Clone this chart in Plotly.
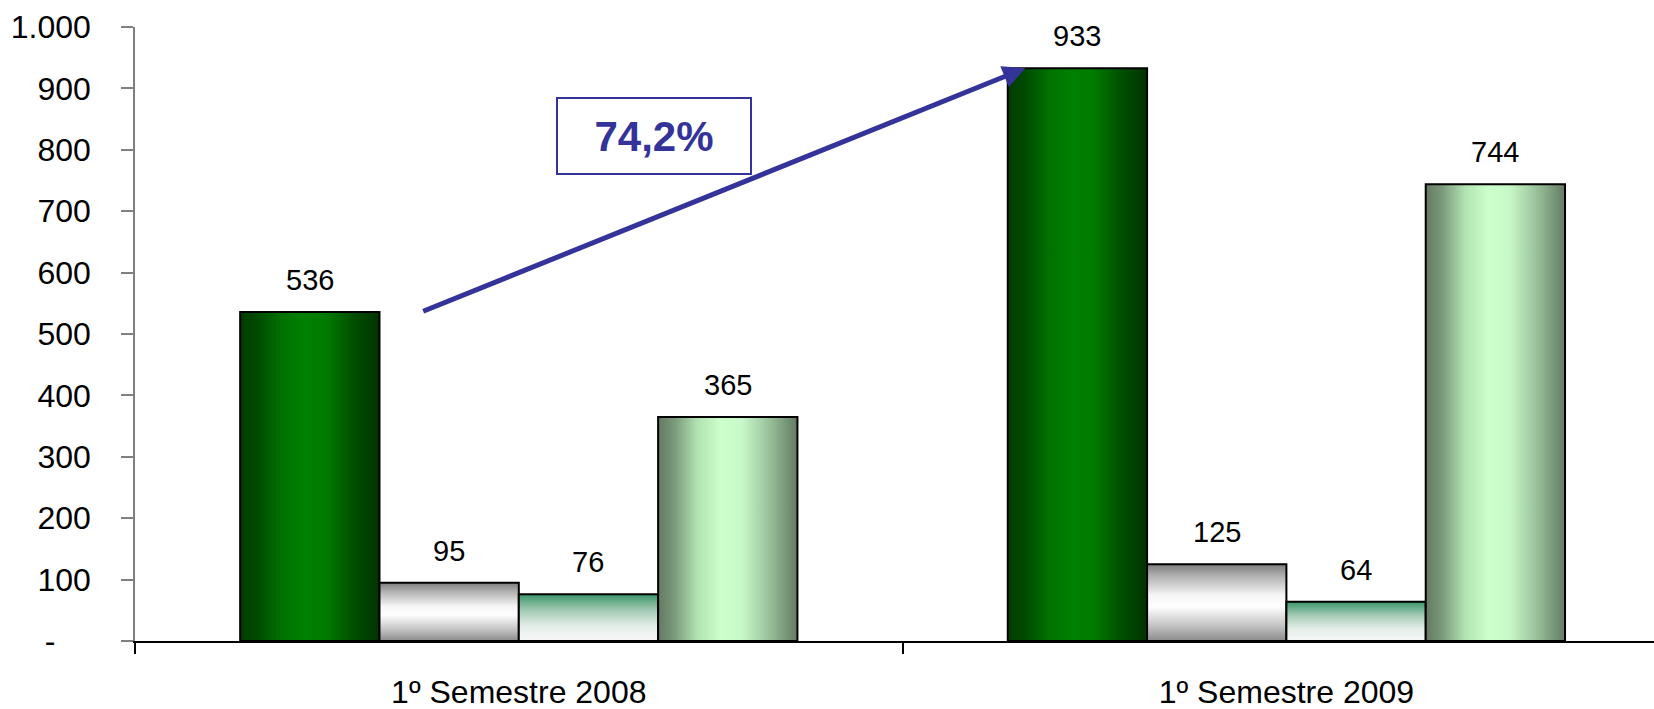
import plotly.graph_objects as go

# ---- data ----
categories = ["1º Semestre 2008", "1º Semestre 2009"]
serie_a = [536, 933]
serie_b = [95, 125]
serie_c = [76, 64]
serie_d = [365, 744]
series = [serie_a, serie_b, serie_c, serie_d]
y_tickvals = [0, 100, 200, 300, 400, 500, 600, 700, 800, 900, 1000]
y_ticktext = ["-\u00a0\u00a0\u00a0\u00a0", "100", "200", "300", "400", "500", "600", "700", "800", "900", "1.000"]
growth_label = "74,2%"

# ---- styles ----
gradients = [
    dict(type="horizontal", colorscale=[[0, "#003c00"], [0.12, "#004a00"], [0.3, "#007200"], [0.45, "#008000"],
                                        [0.62, "#007a00"], [0.82, "#004e00"], [1, "#003300"]]),
    dict(type="vertical", colorscale=[[0, "#8a8a8a"], [0.2, "#c4c4c4"], [0.45, "#ffffff"], [0.6, "#f4f4f4"],
                                      [0.85, "#b0b0b0"], [1, "#7c7c7c"]]),
    dict(type="vertical", colorscale=[[0, "#f7f7f7"], [0.3, "#e6efea"], [0.65, "#a5cbb5"], [1, "#3a956a"]]),
    dict(type="horizontal", colorscale=[[0, "#627a62"], [0.12, "#7c9a7c"], [0.28, "#b1e2b1"], [0.45, "#ccffcc"],
                                        [0.6, "#c8f8c8"], [0.75, "#a6cfa6"], [0.88, "#84a484"], [1, "#627a62"]]),
]
BARGAP = 0.274
FONT = "Liberation Sans, Arial, sans-serif"
W, H = 1654, 709
ML, MR, MT, MB = 135, 0, 27, 68
CAT_PX = 767.6
x_hi = -0.5 + (W - ML - MR) / CAT_PX

fig = go.Figure()

xpos = list(range(len(categories)))
# underlying bar traces (geometry / data carriers)
for i, s in enumerate(series):
    fig.add_trace(go.Bar(x=xpos, y=s, marker=dict(color="rgba(0,0,0,0)", line=dict(width=0)),
                         showlegend=False, hoverinfo="skip"))

# gradient-filled bar bodies following the bar geometry
n = len(series)
group_w = 1 - BARGAP
bw = group_w / n
annotations = []
for i, s in enumerate(series):
    off = -group_w / 2 + bw * i
    for j, v in enumerate(s):
        x0 = xpos[j] + off
        x1 = x0 + bw
        fig.add_trace(go.Scatter(
            x=[x0, x0, x1, x1, x0], y=[0, v, v, 0, 0], mode="lines", fill="toself",
            fillgradient=gradients[i], line=dict(color="black", width=2),
            showlegend=False, hoverinfo="skip"))
        annotations.append(dict(x=(x0 + x1) / 2, y=v, xref="x", yref="y", text=str(v),
                                showarrow=False, yanchor="bottom", yshift=14,
                                font=dict(family=FONT, size=29, color="black")))

# growth arrow from first to second green bar
tip_x = xpos[1] - group_w / 2 + 0.023
tail_x = xpos[0] - group_w / 2 + bw + 0.055
annotations.append(dict(x=tip_x, y=serie_a[1], ax=tail_x, ay=serie_a[0], xref="x", yref="y",
                        axref="x", ayref="y", showarrow=True, arrowhead=2, arrowsize=0.9,
                        arrowwidth=5, arrowcolor="#333399", standoff=0, text=""))
annotations.append(dict(x=0.1765, y=822, xref="x", yref="y", text="<b>" + growth_label + "</b>",
                        showarrow=False, font=dict(family=FONT, size=42, color="#333399"),
                        bordercolor="#333399", borderwidth=2, borderpad=0, width=192, height=74,
                        bgcolor="rgba(255,255,255,0)"))

fig.update_layout(
    width=W, height=H, margin=dict(l=ML, r=MR, t=MT, b=MB, autoexpand=False),
    paper_bgcolor="white", plot_bgcolor="white",
    barmode="group", bargap=BARGAP, bargroupgap=0,
    showlegend=False, annotations=annotations,
    font=dict(family=FONT, color="black"),
)
fig.update_xaxes(
    range=[-0.5, x_hi], tickvals=xpos, ticktext=categories, ticks="", automargin=False,
    showline=True, linecolor="black", linewidth=1.5, showgrid=False, zeroline=False,
    tickfont=dict(family=FONT, size=32, color="black"), ticklabelstandoff=22,
    minor=dict(tickvals=[-0.5, 0.5, 1.5], ticks="outside", ticklen=11, tickcolor="black", tickwidth=1.5),
)
fig.update_yaxes(
    range=[0, 1000], tickvals=y_tickvals, ticktext=y_ticktext, ticks="outside", ticklen=12,
    tickcolor="#808080", tickwidth=1.5, showline=True, linecolor="#808080", linewidth=1.5, automargin=False,
    showgrid=False, zeroline=False, tickfont=dict(family=FONT, size=32, color="black"),
    ticklabelstandoff=24,
)

fig.write_html("out.html", config={"displayModeBar": False},
               post_script="document.body.style.margin='0';document.body.style.overflow='hidden';")
